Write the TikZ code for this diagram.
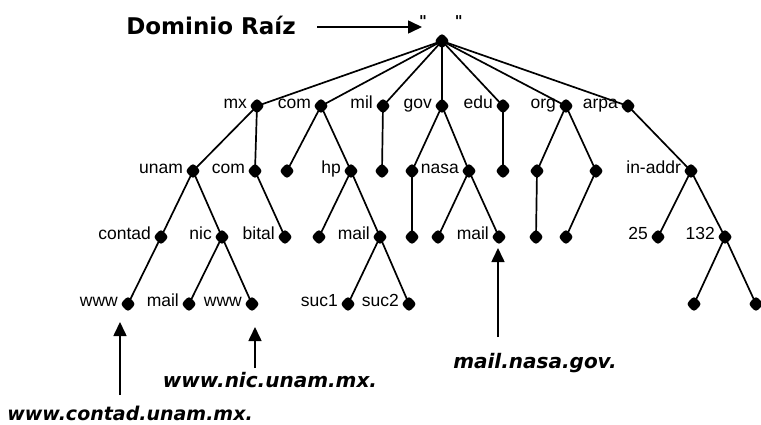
\documentclass[tikz,border=0pt]{standalone}
\usepackage{fontspec}
\setmainfont{Liberation Sans}
\newfontfamily\headfont{DejaVu Sans}
\usetikzlibrary{shapes.geometric,arrows.meta}

\begin{document}
\begin{tikzpicture}[x=1pt,y=-1pt,
  dot/.style={diamond,fill=black,draw=none,inner sep=0pt,
    minimum width=15.5pt,minimum height=16pt,rounded corners=3pt},
  every label/.style={font=\fontsize{17.5}{17.5}\selectfont,inner sep=0pt,
    text height=9pt,text depth=0pt,yshift=2pt},
  label distance=2pt,
  edge/.style={line width=1.7pt},
  pointer/.style={line width=1.6pt,-{Triangle[length=14pt,width=13pt]}},
  urltext/.style={font=\headfont\bfseries\itshape\fontsize{20}{20}\selectfont,inner sep=0pt}]

\useasboundingbox (0,0) rectangle (761,425);
\fill[white] (0,0) rectangle (761,425);

% root
\node[dot] (root) at (442,41) {};
\node[font=\headfont\bfseries\fontsize{15}{15}\selectfont,inner sep=0pt] (quotes) at (441,21)
  {\char"22\hspace{28pt}\char"22};
\node[font=\headfont\bfseries\fontsize{23}{23}\selectfont,inner sep=0pt] (dominio) at (211,25) {Dominio Raíz};

% top-level domains
\node[dot,label=left:mx]   (mx)   at (257,106) {};
\node[dot,label=left:com]  (com)  at (321,106) {};
\node[dot,label=left:mil]  (mil)  at (383,106) {};
\node[dot,label=left:gov]  (gov)  at (442,106) {};
\node[dot,label=left:edu]  (edu)  at (503,106) {};
\node[dot,label=left:org]  (org)  at (566,106) {};
\node[dot,label=left:arpa] (arpa) at (628,106) {};

% second level
\node[dot,label=left:unam]    (unam)   at (193,171) {};
\node[dot,label=left:com]     (mxcom)  at (255,171) {};
\node[dot]                    (comA)   at (287,171) {};
\node[dot,label=left:hp]      (hp)     at (351,171) {};
\node[dot]                    (milA)   at (382,171) {};
\node[dot]                    (govA)   at (412,171) {};
\node[dot,label=left:nasa]    (nasa)   at (469,171) {};
\node[dot]                    (eduA)   at (503,171) {};
\node[dot]                    (orgA)   at (537,171) {};
\node[dot]                    (orgB)   at (596,171) {};
\node[dot,label=left:in-addr] (inaddr) at (691,171) {};

% third level
\node[dot,label=left:contad] (contad)   at (161,237) {};
\node[dot,label=left:nic]    (nic)      at (222,237) {};
\node[dot,label=left:bital]  (bital)    at (285,237) {};
\node[dot]                   (hpA)      at (319,237) {};
\node[dot,label=left:mail]   (hpmail)   at (380,237) {};
\node[dot]                   (govB)     at (412,237) {};
\node[dot]                   (nasaA)    at (438,237) {};
\node[dot,label=left:mail]   (nasamail) at (499,237) {};
\node[dot]                   (orgC)     at (536,237) {};
\node[dot]                   (orgD)     at (566,237) {};
\node[dot,label=left:25]     (n25)      at (658,237) {};
\node[dot,label=left:132]    (n132)     at (725,237) {};

% fourth level
\node[dot,label=left:www]  (wwwA)    at (128,304) {};
\node[dot,label=left:mail] (nicmail) at (189,304) {};
\node[dot,label=left:www]  (wwwB)    at (252,304) {};
\node[dot,label=left:suc1] (suc1)    at (348,304) {};
\node[dot,label=left:suc2] (suc2)    at (409,304) {};
\node[dot]                 (ipA)     at (694,304) {};
\node[dot]                 (ipB)     at (756,304) {};

% tree edges
\foreach \a/\b in {root/mx,root/com,root/mil,root/gov,root/edu,root/org,root/arpa,
    mx/unam,mx/mxcom,com/comA,com/hp,mil/milA,gov/govA,gov/nasa,edu/eduA,
    org/orgA,org/orgB,arpa/inaddr,
    unam/contad,unam/nic,mxcom/bital,hp/hpA,hp/hpmail,govA/govB,
    nasa/nasaA,nasa/nasamail,orgA/orgC,orgB/orgD,inaddr/n25,inaddr/n132,
    contad/wwwA,nic/nicmail,nic/wwwB,hpmail/suc1,hpmail/suc2,n132/ipA,n132/ipB}
  \draw[edge] (\a.center) -- (\b.center);

% full names
\node[urltext,font=\headfont\bfseries\itshape\fontsize{19}{19}\selectfont] (urlcontad) at (130,413) {www.contad.unam.mx.};
\node[urltext] (urlnic)    at (270,380) {www.nic.unam.mx.};
\node[urltext] (urlnasa)   at (535,363) {mail.nasa.gov.};

% pointers
\coordinate (pRootS) at (317,27);  \coordinate (pRootE) at (422,27);
\coordinate (pContS) at (120,395); \coordinate (pContE) at (120,322);
\coordinate (pNicS)  at (255,368); \coordinate (pNicE)  at (255,327);
\coordinate (pNasaS) at (498,337); \coordinate (pNasaE) at (498,248);
\draw[pointer] (pRootS) -- (pRootE);
\draw[pointer] (pContS) -- (pContE);
\draw[pointer] (pNicS) -- (pNicE);
\draw[pointer] (pNasaS) -- (pNasaE);
\end{tikzpicture}
\end{document}
